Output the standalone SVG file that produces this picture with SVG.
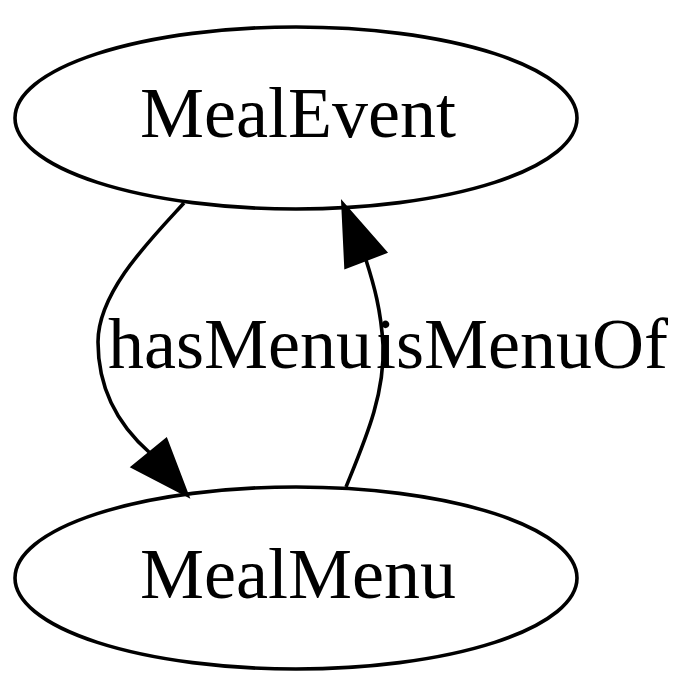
<svg xmlns="http://www.w3.org/2000/svg" width="700" height="695" viewBox="0 0 700 695">
<style>
.node ellipse{fill:none;stroke:#000;stroke-width:3.6}
text{font-family:"Liberation Serif","Times New Roman",serif;font-size:72px;fill:#000}
.edge path{fill:none;stroke:#000;stroke-width:3.6}
.edge polygon{fill:#000;stroke:#000;stroke-width:3.6}
</style>
<rect width="700" height="695" fill="#fff"/>
<g id="MealEvent" class="node">
<ellipse cx="296" cy="118" rx="281" ry="91"/>
<text x="298" y="137" text-anchor="middle">MealEvent</text>
</g>
<g id="MealMenu" class="node">
<ellipse cx="296" cy="578" rx="281" ry="91"/>
<text x="298" y="598" text-anchor="middle">MealMenu</text>
</g>
<g id="edges" class="edge">
<g id="hasMenu">
<path d="M184,203 C150,240 98,292 98,342 C98,390 118,425 150,453"/>
<polygon points="166,440 187,495 133,467"/>
<text x="108" y="368">hasMenu</text>
</g>
<g id="isMenuOf">
<path d="M346,487 C365,440 385,395 383,345 C381,310 374,285 366,260"/>
<polygon points="385,252 343,204 346,267"/>
<text x="376" y="368">isMenuOf</text>
</g>
</g>
</svg>
